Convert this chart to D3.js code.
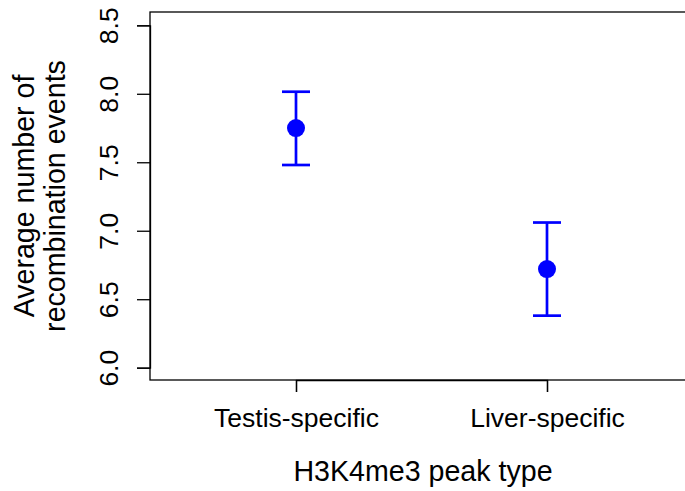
<!DOCTYPE html>
<html><head><meta charset="utf-8">
<script src="https://cdn.jsdelivr.net/npm/d3@7"></script>
<style>body{margin:0;background:#fff}svg{display:block}text{font-family:"Liberation Sans",Arial,sans-serif;fill:#000}</style>
</head><body>
<svg id="c" width="685" height="491"></svg>
<script>
const categories = ["Testis-specific", "Liver-specific"];
const means = [7.75, 6.72];
const upper = [8.015, 7.06];
const lower = [7.48, 6.38];
const yTicks = [6.0, 6.5, 7.0, 7.5, 8.0, 8.5];
const xTitle = "H3K4me3 peak type";
const yTitle = ["Average number of", "recombination events"];

const svg = d3.select("#c");
const box = {l:150, t:12, r:693, b:380};
const x = d3.scaleLinear().domain([1, 2]).range([296, 547]);
const y = d3.scaleLinear().domain([6.0, 8.5]).range([367.7, 25.3]);
const fsTick = "26.5px", fsTitle = "28.6px";

// box
svg.append("rect").attr("x", box.l).attr("y", box.t).attr("width", box.r - box.l).attr("height", box.b - box.t)
  .attr("fill", "none").attr("stroke", "#000").attr("stroke-width", 1.3);

// y axis
const yAxis = d3.axisLeft(y).tickValues(yTicks).tickSize(13).tickPadding(0).tickFormat(d3.format(".1f"));
const ga = svg.append("g").attr("transform", `translate(${box.l},0)`).call(yAxis);
ga.select(".domain").attr("stroke", "#000").attr("stroke-width", 1.3);
ga.selectAll(".tick line").attr("stroke", "#000").attr("stroke-width", 1.3);
ga.selectAll(".tick text").attr("x", 0).attr("y", 0).attr("dy", 0)
  .attr("transform", "translate(-32,0) rotate(-90)")
  .attr("text-anchor", "middle").style("font-size", fsTick).style("font-family", "Liberation Sans, Arial, sans-serif").attr("fill", "#000");

// x axis
const xAxis = d3.axisBottom(x).tickValues([1, 2]).tickSize(12).tickPadding(0).tickFormat((d, i) => categories[i]);
const gx = svg.append("g").attr("transform", `translate(0,${box.b})`).call(xAxis);
gx.select(".domain").attr("stroke", "#000").attr("stroke-width", 1.3);
gx.selectAll(".tick line").attr("stroke", "#000").attr("stroke-width", 1.3);
gx.selectAll(".tick text").attr("y", 47).attr("dy", 0)
  .style("font-size", fsTick).style("font-family", "Liberation Sans, Arial, sans-serif").attr("fill", "#000");

// titles
svg.append("text").attr("x", 423).attr("y", 481).attr("text-anchor", "middle")
  .style("font-size", fsTitle).text(xTitle);
const yc = 196;
[34, 65].forEach((bx, i) => {
  svg.append("text").attr("transform", `translate(${bx},${yc}) rotate(-90)`).attr("text-anchor", "middle")
    .style("font-size", fsTitle).text(yTitle[i]);
});

// error bars
const blue = "#0000FF";
const g = svg.append("g");
categories.forEach((c, i) => {
  const cx = x(i + 1);
  g.append("line").attr("x1", cx).attr("x2", cx).attr("y1", y(lower[i])).attr("y2", y(upper[i]))
    .attr("stroke", blue).attr("stroke-width", 2.7);
  [lower[i], upper[i]].forEach(v => {
    g.append("line").attr("x1", cx - 14).attr("x2", cx + 14).attr("y1", y(v)).attr("y2", y(v))
      .attr("stroke", blue).attr("stroke-width", 2.7);
  });
  g.append("circle").attr("cx", cx).attr("cy", y(means[i])).attr("r", 9).attr("fill", blue);
});
</script>
</body></html>
